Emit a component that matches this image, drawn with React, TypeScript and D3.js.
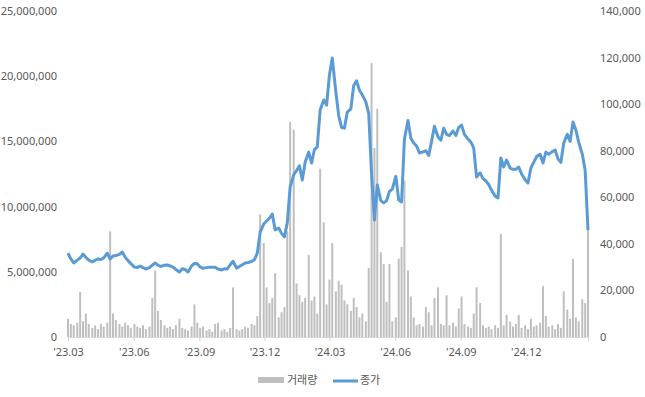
import { useEffect, useRef } from "react";
import * as d3 from "d3";

// first and last trading day on the x axis
const startDate = new Date(2023, 2, 1);
const endDate = new Date(2025, 1, 26);

// closing price (종가), roughly every 4 days
const closePrice = [
  36000, 33500, 31800, 33000, 33900, 35600, 34200, 33000, 32200, 33000,
  33500, 33300, 34000, 36000, 33500, 34800, 35000, 35500, 36500, 34300,
  32800, 31500, 30000, 29800, 30500, 29800, 29200, 29800, 30800, 31800,
  30800, 30300, 30800, 30900, 30500, 30000, 29000, 27900, 29300, 29000,
  27900, 30500, 31600, 31500, 30100,
  29500, 29800, 30000, 30000, 30000, 29200, 28800, 29300, 29200, 31000,
  32500, 29600, 30300, 31000, 31800, 32000, 32400, 33200, 36000, 45000,
  48500, 49800, 51000, 52800, 46000, 46800, 44500, 43000, 49000, 64400,
  69600, 71500, 73500, 67400, 75000, 79400, 74700, 80500, 81600, 97500,
  101800, 99600, 112500, 119800, 105200,
  95000, 90000, 89700, 96600, 98000, 108000, 110000, 106000, 104000, 101000,
  96000, 70000, 50200, 65300, 58500, 57600, 58500, 62500, 63500, 69000,
  58800, 58000, 85000, 93000, 85400, 83300, 82000, 79000, 79500, 80000,
  78000, 84000, 90500, 86000, 84500, 89700, 87000, 86500, 88500, 86500,
  90000,
  91000, 87000, 85000, 83700, 81200, 68700, 70500, 68000, 67000, 65500,
  63000, 60500, 59700, 76900, 73000, 76000, 72500, 72000, 72000, 73000,
  70000, 67500, 66100, 72600, 75000, 77500, 78500, 74700, 79400, 78500,
  79600, 80300, 76500, 75000, 83300, 87000, 84000, 92300, 88900, 83700,
  78500, 71700, 45900,
];

// trading volume (거래량), same dates
const volume = [
  1400000, 1000000, 900000, 1100000, 3450000, 1200000, 1800000, 1000000, 700000, 900000,
  600000, 1000000, 800000, 1100000, 8100000, 1800000, 1300000, 1000000, 800000, 1100000,
  900000, 700000, 1000000, 800000, 700000, 900000, 600000, 800000, 3000000, 5100000,
  2000000, 1300000, 900000, 700000, 800000, 600000, 900000, 1400000, 700000, 600000,
  500000, 800000, 2500000, 1100000, 700000,
  800000, 500000, 600000, 400000, 1000000, 1100000, 500000, 600000, 400000, 700000,
  3800000, 600000, 500000, 600000, 800000, 700000, 1000000, 900000, 1600000, 9400000,
  7200000, 3800000, 2600000, 3000000, 4900000, 1500000, 1900000, 2300000, 8100000, 16500000,
  15900000, 4100000, 3200000, 2700000, 3000000, 6300000, 2800000, 3100000, 1800000, 12900000,
  8800000, 2500000, 4400000, 7200000, 3500000,
  4300000, 4000000, 2800000, 2500000, 2000000, 3000000, 2300000, 1500000, 1800000, 1200000,
  5300000, 21000000, 14500000, 17500000, 6500000, 5600000, 2700000, 5600000, 1200000, 1500000,
  6000000, 6900000, 12000000, 5100000, 3100000, 1500000, 900000, 1000000, 800000, 2300000,
  1900000, 900000, 3000000, 3800000, 1000000, 900000, 3200000, 900000, 1100000, 800000,
  2200000,
  3100000, 1000000, 800000, 700000, 1800000, 3800000, 2600000, 900000, 700000, 800000,
  600000, 900000, 700000, 7900000, 900000, 1700000, 1200000, 800000, 1000000, 1700000,
  700000, 900000, 600000, 1400000, 800000, 900000, 1100000, 3900000, 1600000, 800000,
  900000, 600000, 1000000, 700000, 3500000, 2100000, 1400000, 6000000, 1500000, 1200000,
  2900000, 2600000, 8200000,
];

const volumeTicks = [0, 5000000, 10000000, 15000000, 20000000, 25000000];
const priceTicks = [0, 20000, 40000, 60000, 80000, 100000, 120000, 140000];
const seriesNames = ["거래량", "종가"];

const App = () => {
  const svgRef = useRef<SVGSVGElement>(null);

  useEffect(() => {
    const svg = d3.select(svgRef.current);
    svg.selectAll("*").remove();

    const left = 68;
    const right = 588;
    const top = 11;
    const bottom = 337;
    const textColor = "#595959";
    const numFont = "'Noto Sans', sans-serif";
    const krFont = "'Noto Sans CJK KR', 'Noto Sans', sans-serif";

    const x = d3.scaleTime().domain([startDate, endDate]).range([left, right]);
    const span = d3.timeDay.count(startDate, endDate);
    const dates = closePrice.map((_, i) =>
      d3.timeDay.offset(startDate, Math.round((i * span) / (closePrice.length - 1)))
    );
    const yVol = d3.scaleLinear().domain([0, 25000000]).range([bottom, top]);
    const yPrice = d3.scaleLinear().domain([0, 140000]).range([bottom, top]);

    // volume bars
    svg
      .append("g")
      .selectAll("rect")
      .data(volume)
      .enter()
      .append("rect")
      .attr("x", (d, i) => x(dates[i]) - 1)
      .attr("width", 2)
      .attr("y", (d) => yVol(d))
      .attr("height", (d) => bottom - yVol(d))
      .attr("fill", "#BFBFBF");

    // x axis, quarterly ticks starting in March
    const xAxis = d3
      .axisBottom(x)
      .tickValues(d3.timeMonth.range(startDate, endDate, 3))
      .tickFormat((d) => d3.timeFormat("'%y.%m")(d as Date))
      .tickSize(4)
      .tickSizeOuter(4)
      .tickPadding(7);
    const gx = svg.append("g").attr("transform", `translate(0,${bottom})`).call(xAxis);
    gx.select(".domain").attr("stroke", "#D9D9D9");
    gx.selectAll(".tick line").attr("stroke", "#D9D9D9");
    gx.selectAll("text").attr("fill", textColor).style("font-size", "11px").style("font-family", numFont);

    // left axis (volume)
    const gl = svg
      .append("g")
      .attr("transform", `translate(61,0)`)
      .call(d3.axisLeft(yVol).tickValues(volumeTicks).tickFormat(d3.format(",")).tickSize(0).tickPadding(4));
    gl.select(".domain").remove();
    gl.selectAll("text").attr("fill", textColor).style("font-size", "11px").style("font-family", numFont);

    // right axis (price)
    const gr = svg
      .append("g")
      .attr("transform", `translate(596,0)`)
      .call(d3.axisRight(yPrice).tickValues(priceTicks).tickFormat(d3.format(",")).tickSize(0).tickPadding(4));
    gr.select(".domain").remove();
    gr.selectAll("text").attr("fill", textColor).style("font-size", "11px").style("font-family", numFont);

    // closing price line
    const line = d3
      .line<number>()
      .x((d, i) => x(dates[i]))
      .y((d) => yPrice(d));
    svg
      .append("path")
      .datum(closePrice)
      .attr("d", line)
      .attr("fill", "none")
      .attr("stroke", "#5B9BD5")
      .attr("stroke-width", 3)
      .attr("stroke-linejoin", "round");

    // legend
    const legend = svg.append("g").attr("transform", "translate(258,380)");
    legend.append("rect").attr("x", 0).attr("y", -3).attr("width", 26).attr("height", 6).attr("fill", "#BFBFBF");
    legend
      .append("text")
      .attr("x", 29)
      .attr("y", 0)
      .attr("dy", "0.35em")
      .attr("fill", textColor)
      .style("font-size", "11px")
      .style("font-family", krFont)
      .text(seriesNames[0]);
    legend
      .append("line")
      .attr("x1", 75)
      .attr("x2", 100)
      .attr("y1", 1)
      .attr("y2", 1)
      .attr("stroke", "#5B9BD5")
      .attr("stroke-width", 3);
    legend
      .append("text")
      .attr("x", 102)
      .attr("y", 0)
      .attr("dy", "0.35em")
      .attr("fill", textColor)
      .style("font-size", "11px")
      .style("font-family", krFont)
      .text(seriesNames[1]);
  }, []);

  return (
    <svg
      ref={svgRef}
      width={645}
      height={397}
      style={{ position: "absolute", left: 0, top: 0, background: "#fff" }}
    />
  );
};

export default App;
